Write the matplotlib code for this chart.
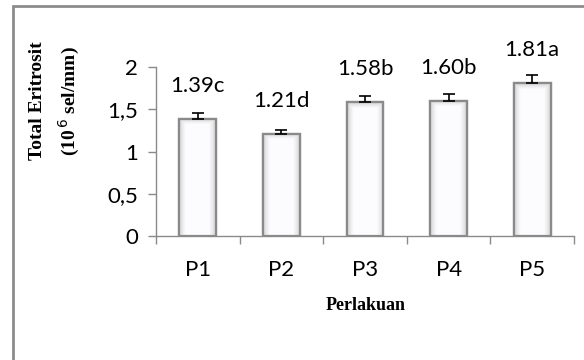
import numpy as np
import matplotlib
matplotlib.use("Agg")
import matplotlib.pyplot as plt
from matplotlib.patches import Rectangle

# Data
treatments = ["P1", "P2", "P3", "P4", "P5"]
means = [1.39, 1.21, 1.58, 1.60, 1.81]
errors = [0.06, 0.05, 0.08, 0.08, 0.09]
letters = ["c", "d", "b", "b", "a"]
y_ticks = [0, 0.5, 1, 1.5, 2]
y_tick_labels = ["0", "0,5", "1", "1,5", "2"]

W, H = 584, 360
fig = plt.figure(figsize=(W / 100, H / 100), dpi=100)
fig.patch.set_facecolor("white")

# Outer chart frame (only top and left visible)
fig.patches.append(Rectangle((13 / W, -0.05), 1.2, 1 - 6 / H + 0.05,
                             transform=fig.transFigure, fill=False,
                             edgecolor="#8c8c8c", linewidth=2.0))

ax = fig.add_axes([156 / W, 1 - 236 / H, (574 - 156) / W, (236 - 67) / H])
x = np.arange(len(treatments))
bw = 0.44
edge = "#8a8a8a"

bars = ax.bar(x, means, width=bw, color="#f7f7f7", edgecolor=edge,
              linewidth=1.6, zorder=2)

# Bevel shading inside each bar
for rect in bars:
    x0, y0 = rect.get_x(), rect.get_y()
    w, h = rect.get_width(), rect.get_height()
    nx, ny = 60, 200
    u = np.linspace(0, 1, nx)
    v = np.linspace(0, h, ny)
    U, V = np.meshgrid(u, v)
    side = np.minimum(U, 1 - U) / 0.18
    top = (h - V) / 0.07
    d = np.clip(np.minimum(side, top), 0, 1)
    shade = 0.80 + 0.19 * d ** 0.7
    img = np.dstack([shade, shade, shade * 1.01])
    img = np.clip(img, 0, 1)
    im = ax.imshow(img, extent=(x0, x0 + w, y0, y0 + h), origin="lower",
                   aspect="auto", zorder=2.1, interpolation="bilinear")
    im.set_clip_path(rect)
    ax.add_patch(Rectangle((x0, y0), w, h, fill=False, edgecolor=edge,
                           linewidth=1.6, zorder=2.2))

ax.errorbar(x, means, yerr=[np.zeros(len(errors)), errors], fmt="none",
            ecolor="#000000", elinewidth=1.2, capsize=4.5, capthick=1.2,
            zorder=3)

for xi, m, lt in zip(x, means, letters):
    ax.text(xi, m + 0.32, f"{m:.2f}{lt}", ha="center", va="baseline",
            fontsize=16, family="Lato", color="black")

ax.set_xlim(-0.5, len(treatments) - 0.5)
ax.set_ylim(0, 2)
ax.set_yticks(y_ticks)
ax.set_yticklabels(y_tick_labels, fontsize=16, family="Lato")
ax.set_xticks(x)
ax.set_xticklabels(treatments, fontsize=16, family="Lato")
ax.set_xticks(np.arange(-0.5, len(treatments)), minor=True)
ax.tick_params(axis="x", which="major", length=0, pad=17)
ax.tick_params(axis="x", which="minor", length=6, color=edge, width=1)
ax.tick_params(axis="y", length=6, color=edge, width=1, pad=7)

for s in ["top", "right"]:
    ax.spines[s].set_visible(False)
for s in ["left", "bottom"]:
    ax.spines[s].set_color(edge)
    ax.spines[s].set_linewidth(1.0)
ax.set_facecolor("none")

# Axis titles
fig.text(38 / W, 1 - 101 / H, "Total Eritrosit", rotation=90,
         ha="center", va="center", fontsize=14, fontweight="bold",
         family="Liberation Serif")
fig.text(69 / W, 1 - 101 / H, r"(10$^{\,6}$ sel/mm)", rotation=90,
         ha="center", va="center", fontsize=14, fontweight="bold",
         family="Liberation Serif")
fig.text(366 / W, 1 - 306 / H, "Perlakuan", ha="center", va="center",
         fontsize=13, fontweight="bold", family="Liberation Serif")

fig.savefig("out.png", dpi=100)
